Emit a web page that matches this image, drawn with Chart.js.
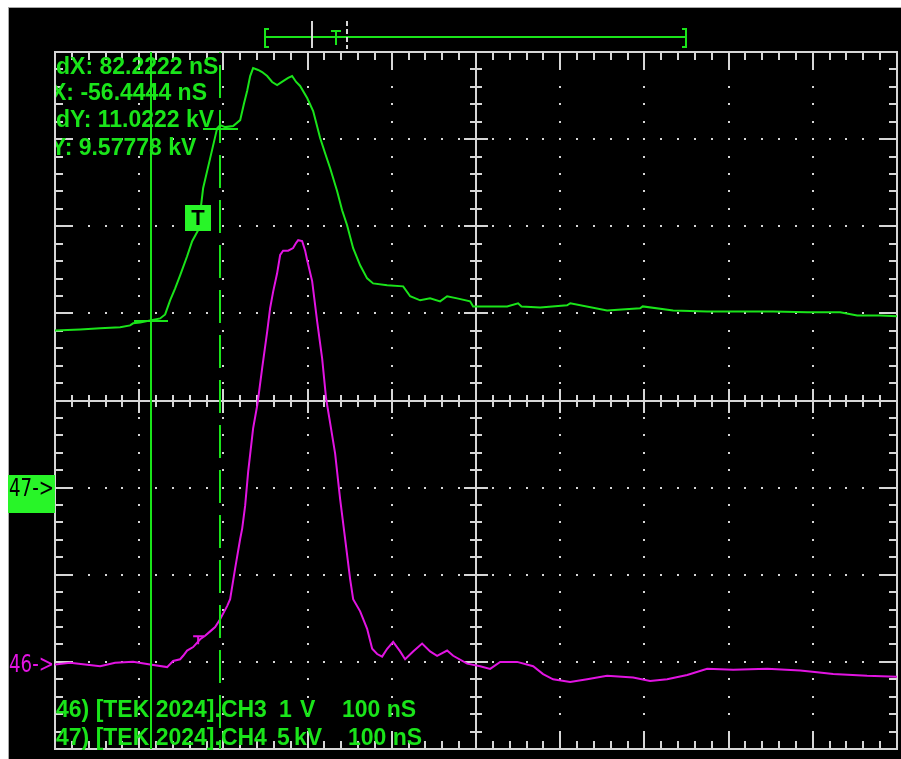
<!DOCTYPE html>
<html>
<head>
<meta charset="utf-8">
<script src="https://cdn.jsdelivr.net/npm/chart.js@4.4.0/dist/chart.umd.min.js"></script>
<style>
  html, body { margin: 0; padding: 0; background: #fff; }
  canvas { display: block; }
</style>
</head>
<body>
<canvas id="scope" width="901" height="759"></canvas>
<script>
// ----- Data (time in nS; CH4 in kV at 5 kV/div, CH3 in V at 1 V/div) -----
const ch4Time = [-170, -140.1, -116.4, -92.6, -80.8, -77.2, -68.9, -45.1, -39.2, -33.3, -27.3, -21.4, -13.1, -7.1, 0,
  5.9, 14.3, 22.6, 26.1, 32.1, 41.6, 49.9, 54.6, 58.2, 61.8, 65.3, 71.3, 76.0, 82.0, 87.9, 93.8, 100.9, 106.9, 111.6,
  116.4, 121.1, 129.5, 136.6, 144.9, 150.8, 156.8, 165.1, 171.0, 176.9, 184.1, 192.4, 200.7, 207.8, 224.5, 243.5,
  251.8, 263.7, 275.5, 287.4, 295.7, 307.6, 323.0, 326.6, 367.0, 380.0, 384.0, 406.2, 438.2, 442.0, 485.7, 524.9, 528.0,
  564.1, 604.5, 643.7, 682.9, 723.3, 762.5, 782.7, 810.0, 830.2];
const ch4kV = [9.02, 9.08, 9.14, 9.20, 9.31, 9.43, 9.48, 9.71, 9.94, 10.75, 11.44, 12.18, 13.28, 14.14, 14.77,
  17.18, 18.91, 20.63, 20.80, 20.69, 20.75, 21.09, 22.07, 22.76, 23.62, 24.08, 23.97, 23.85, 23.62, 23.28, 23.10, 23.33,
  23.51, 23.62, 23.28, 23.05, 22.36, 21.61, 20.06, 19.19, 18.33, 17.01, 15.92, 15.06, 13.74, 12.76, 12.01, 11.72, 11.61,
  11.55, 10.98, 10.75, 10.86, 10.69, 10.98, 10.86, 10.69, 10.40, 10.40, 10.58, 10.40, 10.34, 10.46, 10.58, 10.17, 10.29,
  10.40, 10.17, 10.11, 10.11, 10.11, 10.06, 10.06, 9.88, 9.88, 9.83];

const ch3Time = [-170, -152.0, -134.2, -116.4, -98.6, -77.2, -57.0, -36.8, -29.7, -21.4, -17.8, -13.1, -5.9, 2.4, 8.3,
  14.3, 20.2, 26.1, 34.4, 38.0, 43.9, 49.9, 52.3, 55.8, 59.4, 65.3, 70.1, 71.3, 76.0, 82.0, 85.5, 89.1, 93.8, 97.4,
  100.9, 106.9, 112.8, 116.4, 118.8, 123.5, 127.1, 129.5, 135.4, 141.3, 147.3, 152.0, 156.8, 162.7, 168.6, 174.6,
  180.5, 184.1, 192.4, 200.7, 206.7, 212.6, 218.5, 224.5, 231.6, 239.9, 245.8, 255.3, 266.0, 275.5, 283.8, 295.7,
  302.9, 319.5, 334.9, 346.8, 358.7, 378.9, 397.9, 409.7, 421.6, 441.8, 462.0, 485.7, 516.6, 536.8, 557.0, 580.8,
  604.5, 635.4, 675.8, 715.0, 735.2, 754.2, 794.5, 830.2];
const ch3Volt = [-0.03, -0.01, -0.03, -0.05, -0.01, 0, -0.03, -0.06, 0.01, 0.03, 0.07, 0.13, 0.17, 0.26, 0.30,
  0.35, 0.40, 0.49, 0.64, 0.72, 1.07, 1.41, 1.53, 1.79, 2.18, 2.68, 2.94, 3.02, 3.37, 3.79, 4.06, 4.25, 4.46, 4.67,
  4.72, 4.72, 4.75, 4.81, 4.84, 4.83, 4.72, 4.61, 4.37, 3.91, 3.48, 3.02, 2.74, 2.39, 1.87, 1.41,
  0.95, 0.72, 0.58, 0.38, 0.15, 0.09, 0.06, 0.15, 0.23, 0.12, 0.03, 0.12, 0.21, 0.12, 0.07, 0.13,
  0.07, -0.02, -0.05, -0.08, 0, 0, -0.05, -0.14, -0.20, -0.23, -0.20, -0.16, -0.18, -0.22, -0.20, -0.15,
  -0.08, -0.09, -0.08, -0.10, -0.12, -0.14, -0.16, -0.17];

const xRange = [-170, 830];   // 10 div x 100 nS
const ch4Range = [-15, 25];   // 8 div x 5 kV, ground 1 div below centre
const ch3Range = [-1, 7];     // 8 div x 1 V, ground 3 div below centre

const cursorX = [-56.4444, -56.4444 + 82.2222];
const cursorY = [9.57778, 9.57778 + 11.0222];
const readout = ["dX: 82.2222 nS", "X: -56.4444 nS", "dY: 11.0222 kV", "Y: 9.57778 kV"];

const GREEN = 'rgb(26,228,26)';
const BOX_GREEN = 'rgb(40,245,40)';
const MAGENTA = 'rgb(226,20,226)';
const GRID = '#d6d6d6';

// ----- Scope screen: background, graticule -----
const screenPlugin = {
  id: 'screen',
  beforeDatasetsDraw(chart) {
    const { ctx, chartArea: a, scales } = chart;
    const sx = scales.x, sy = scales.yG;
    ctx.save();
    ctx.fillStyle = '#fff';
    ctx.fillRect(0, 0, chart.width, chart.height);
    ctx.fillStyle = '#000';
    ctx.fillRect(8, 7, chart.width - 8, chart.height - 7);
    ctx.fillStyle = '#a8a8a8';
    ctx.fillRect(8, 7, 1, chart.height - 7);
    ctx.fillRect(8, 7, chart.width - 8, 1);

    const xs = [];
    for (let t = xRange[0]; t <= xRange[1]; t += 20) {
      xs.push({ p: sx.getPixelForValue(t), major: (t - xRange[0]) % 100 === 0, edge: t === xRange[0] || t === xRange[1] });
    }
    const ys = [];
    for (let v = ch4Range[0]; v <= ch4Range[1]; v += 1) {
      ys.push({ p: sy.getPixelForValue(v), major: (v - ch4Range[0]) % 5 === 0, edge: v === ch4Range[0] || v === ch4Range[1] });
    }
    const cx = sx.getPixelForValue((xRange[0] + xRange[1]) / 2);
    const cy = sy.getPixelForValue((ch4Range[0] + ch4Range[1]) / 2);

    ctx.fillStyle = GRID;
    // dotted major lines
    xs.filter(g => g.major && !g.edge && Math.abs(g.p - cx) > 2).forEach(g => {
      ys.forEach(h => { if (!h.edge) ctx.fillRect(Math.round(g.p) - 1, Math.round(h.p) - 1, 2, 2); });
    });
    ys.filter(h => h.major && !h.edge && Math.abs(h.p - cy) > 2).forEach(h => {
      xs.forEach(g => { if (!g.edge) ctx.fillRect(Math.round(g.p) - 1, Math.round(h.p) - 1, 2, 2); });
    });

    // centre cross with ticks
    ctx.fillRect(Math.round(cx) - 1, a.top, 2, a.bottom - a.top);
    ctx.fillRect(a.left, Math.round(cy) - 1, a.right - a.left, 2);
    xs.forEach(g => {
      const len = g.major ? 12 : 6;
      ctx.fillRect(Math.round(g.p) - 1, Math.round(cy) - len, 2, len * 2);
    });
    ys.forEach(h => {
      const len = h.major ? 12 : 6;
      ctx.fillRect(Math.round(cx) - len, Math.round(h.p) - 1, len * 2, 2);
    });

    // border with inward ticks
    ctx.strokeStyle = GRID;
    ctx.lineWidth = 2;
    ctx.strokeRect(a.left, a.top, a.right - a.left, a.bottom - a.top);
    xs.forEach(g => {
      const len = g.major ? 17 : 8;
      ctx.fillRect(Math.round(g.p) - 1, a.top, 2, len);
      ctx.fillRect(Math.round(g.p) - 1, a.bottom - len, 2, len);
    });
    ys.forEach(h => {
      const len = h.major ? 17 : 8;
      ctx.fillRect(a.left, Math.round(h.p) - 1, len, 2);
      ctx.fillRect(a.right - len, Math.round(h.p) - 1, len, 2);
    });
    ctx.restore();
  },

  // ----- Cursors, markers and readouts -----
  afterDraw(chart) {
    const { ctx, chartArea: a, scales } = chart;
    const sx = scales.x, sy = scales.yG, sm = scales.yM;
    ctx.save();
    ctx.strokeStyle = GREEN;
    ctx.fillStyle = GREEN;
    ctx.lineWidth = 2;

    // vertical cursors
    const c1 = Math.round(sx.getPixelForValue(cursorX[0]));
    const c2 = Math.round(sx.getPixelForValue(cursorX[1]));
    ctx.beginPath(); ctx.moveTo(c1, a.top); ctx.lineTo(c1, a.bottom); ctx.stroke();
    ctx.setLineDash([33, 12]);
    ctx.lineDashOffset = 32;
    ctx.beginPath(); ctx.moveTo(c2, a.top); ctx.lineTo(c2, a.bottom); ctx.stroke();
    ctx.setLineDash([]);

    // horizontal cursor marks
    const h1 = Math.round(sy.getPixelForValue(cursorY[0]));
    const h2 = Math.round(sy.getPixelForValue(cursorY[1]));
    ctx.beginPath(); ctx.moveTo(c1 - 17, h1); ctx.lineTo(c1 + 17, h1); ctx.stroke();
    ctx.beginPath(); ctx.moveTo(c2 - 17, h2); ctx.lineTo(c2 + 18, h2); ctx.stroke();

    // trigger box on CH4
    const tx = sx.getPixelForValue(0), ty = sy.getPixelForValue(15.5);
    ctx.fillStyle = BOX_GREEN;
    ctx.fillRect(Math.round(tx) - 13, Math.round(ty) - 13, 26, 26);
    ctx.fillStyle = '#000';
    ctx.font = 'bold 22px "Liberation Sans", Arial, sans-serif';
    ctx.textAlign = 'center';
    ctx.textBaseline = 'middle';
    ctx.fillText('T', Math.round(tx), Math.round(ty) + 1);

    // small trigger mark on CH3
    const mx = sx.getPixelForValue(0), my = sm.getPixelForValue(0.26);
    ctx.strokeStyle = MAGENTA;
    ctx.beginPath();
    ctx.moveTo(mx - 5, my - 3); ctx.lineTo(mx + 6, my - 3);
    ctx.moveTo(mx, my - 3); ctx.lineTo(mx, my + 5);
    ctx.stroke();

    // record window bracket above the screen
    ctx.strokeStyle = GREEN;
    ctx.beginPath();
    ctx.moveTo(265, 37); ctx.lineTo(685, 37);
    ctx.moveTo(269, 29); ctx.lineTo(265, 29); ctx.lineTo(265, 47); ctx.lineTo(269, 47);
    ctx.moveTo(682, 29); ctx.lineTo(686, 29); ctx.lineTo(686, 47); ctx.lineTo(682, 47);
    ctx.moveTo(331, 31); ctx.lineTo(341, 31);
    ctx.moveTo(336, 31); ctx.lineTo(336, 45);
    ctx.stroke();
    ctx.strokeStyle = GRID;
    ctx.beginPath(); ctx.moveTo(312, 21); ctx.lineTo(312, 48); ctx.stroke();
    ctx.setLineDash([5, 3]);
    ctx.beginPath(); ctx.moveTo(347, 21); ctx.lineTo(347, 49); ctx.stroke();
    ctx.setLineDash([]);

    // readouts
    ctx.fillStyle = GREEN;
    ctx.font = 'bold 23px "Liberation Sans", Arial, sans-serif';
    ctx.textAlign = 'left';
    ctx.textBaseline = 'alphabetic';
    ctx.save();
    ctx.beginPath(); ctx.rect(a.left + 1, 0, chart.width, chart.height); ctx.clip();
    const lineY = [74, 100, 127, 155];
    readout.forEach((s, i) => {
      const indent = s.startsWith('d') ? a.left + 1 : a.left - 4;
      ctx.fillText(s, indent, lineY[i]);
    });
    ctx.fillText('46) [TEK 2024].CH3', a.left + 1, 717);
    ctx.fillText('1', 279, 717);
    ctx.fillText('V', 300, 717);
    ctx.fillText('100 nS', 342, 717);
    ctx.fillText('47) [TEK 2024].CH4', a.left + 1, 745);
    ctx.fillText('5', 277, 745);
    ctx.fillText('kV', 294, 745);
    ctx.fillText('100 nS', 348, 745);
    ctx.restore();

    // channel ground markers
    const g4 = Math.round(sy.getPixelForValue(0));
    const g3 = Math.round(sm.getPixelForValue(0));
    ctx.fillStyle = BOX_GREEN;
    ctx.fillRect(8, g4 - 13, a.left - 8, 38);
    const drawLabel = (text, y, color) => {
      ctx.save();
      ctx.font = '25px "DejaVu Sans", sans-serif';
      const w = ctx.measureText(text).width;
      ctx.translate(9, y);
      ctx.scale(45 / w, 1);
      ctx.fillStyle = color;
      ctx.textBaseline = 'middle';
      ctx.fillText(text, 0, 0);
      ctx.restore();
    };
    drawLabel('47->', g4 + 1, '#000');
    drawLabel('46->', g3 + 3, MAGENTA);
    ctx.restore();
  }
};

new Chart(document.getElementById('scope'), {
  type: 'line',
  data: {
    datasets: [
      {
        label: 'CH4',
        data: ch4Time.map((t, i) => ({ x: t, y: ch4kV[i] })),
        yAxisID: 'yG',
        borderColor: GREEN,
        borderWidth: 2,
        pointRadius: 0,
        tension: 0
      },
      {
        label: 'CH3',
        data: ch3Time.map((t, i) => ({ x: t, y: ch3Volt[i] })),
        yAxisID: 'yM',
        borderColor: MAGENTA,
        borderWidth: 2,
        pointRadius: 0,
        tension: 0
      }
    ]
  },
  options: {
    responsive: false,
    animation: false,
    devicePixelRatio: 1,
    layout: { padding: { left: 55, top: 52, right: 4, bottom: 10 } },
    plugins: { legend: { display: false }, tooltip: { enabled: false } },
    scales: {
      x: { type: 'linear', min: xRange[0], max: xRange[1], display: false },
      yG: { type: 'linear', min: ch4Range[0], max: ch4Range[1], display: false },
      yM: { type: 'linear', min: ch3Range[0], max: ch3Range[1], display: false }
    }
  },
  plugins: [screenPlugin]
});
</script>
</body>
</html>
